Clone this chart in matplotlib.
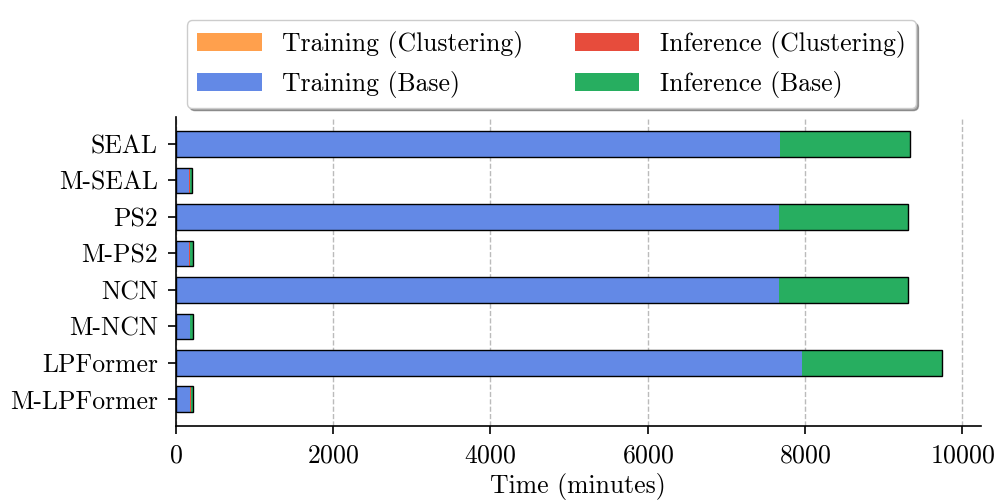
import matplotlib
matplotlib.use("Agg")
import matplotlib.pyplot as plt
import numpy as np

plt.rcParams['font.family'] = 'serif'
plt.rcParams['font.serif'] = ['cmr10']
plt.rcParams['mathtext.fontset'] = 'cm'
plt.rcParams['axes.formatter.use_mathtext'] = True

models = ["SEAL", "M-SEAL", "PS2", "M-PS2", "NCN", "M-NCN", "LPFormer", "M-LPFormer"]
train_clust = [0, 3, 0, 4, 0, 3, 0, 15]
train_base = [7680, 168, 7665, 168, 7668, 172, 7960, 168]
inf_clust = [0, 5, 3, 6, 0, 3, 0, 10]
inf_base = [1655, 30, 1643, 36, 1640, 36, 1785, 28]

colors = {"tc": "#FFA04D", "tb": "#6389E6", "ic": "#E74C3C", "ib": "#27AE60"}

fig = plt.figure(figsize=(9.97, 5.03), dpi=100)
ax = fig.add_axes([0.1765, 0.153, 0.807, 0.614])

y = np.arange(len(models))
h = 0.7
left = np.zeros(len(models))
for vals, key, lab in [(train_clust, "tc", "Training (Clustering)"),
                       (train_base, "tb", "Training (Base)"),
                       (inf_clust, "ic", "Inference (Clustering)"),
                       (inf_base, "ib", "Inference (Base)")]:
    ax.barh(y, vals, left=left, height=h, color=colors[key], label=lab, zorder=3)
    left = left + np.array(vals)
# black outline around each full bar
ax.barh(y, left, height=h, fill=False, edgecolor="black", linewidth=1, zorder=4)

ax.set_yticks(y)
ax.set_yticklabels(models, fontsize=18.5)
ax.invert_yaxis()
ax.set_xlim(0, left.max() * 1.05)
ax.set_xticks([0, 2000, 4000, 6000, 8000, 10000])
ax.tick_params(axis='x', labelsize=18.5)
ax.tick_params(length=6, width=1.2, pad=7)
ax.set_xlabel("Time (minutes)", fontsize=18.5, labelpad=4)
ax.grid(axis='x', linestyle='--', color='#bbbbbb', linewidth=1, zorder=0)
ax.spines['top'].set_visible(False)
ax.spines['right'].set_visible(False)
ax.spines['left'].set_linewidth(1.2)
ax.spines['bottom'].set_linewidth(1.2)

fig.legend(*ax.get_legend_handles_labels(), loc='upper center',
           bbox_to_anchor=(0.553, 0.985), ncol=2, fontsize=18.5,
           shadow=True, frameon=True, handlelength=2.5, columnspacing=2.0,
           edgecolor='#cccccc', framealpha=1)

fig.savefig("out.png", dpi=100)
